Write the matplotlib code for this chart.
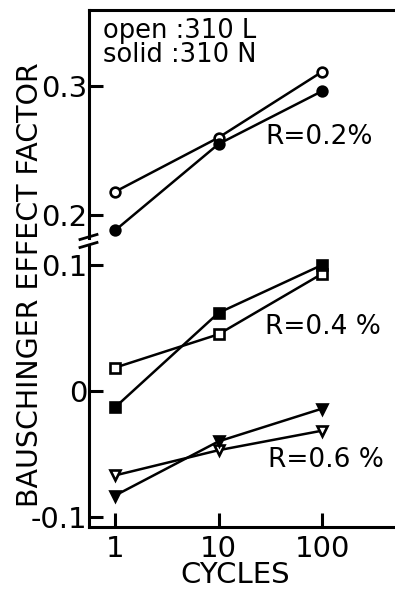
import matplotlib.pyplot as plt
import numpy as np

# datos
cycles = [1, 10, 100]
r02_310L = [0.218, 0.260, 0.311]
r02_310N = [0.188, 0.255, 0.296]
r04_310L = [0.0185, 0.045, 0.093]
r04_310N = [-0.013, 0.062, 0.100]
r06_310L = [-0.067, -0.047, -0.0315]
r06_310N = [-0.083, -0.040, -0.014]

yticks_top = [0.2, 0.3]
yticks_bot = [-0.1, 0, 0.1]
ytick_labels_bot = ['-0.1', '0', '0.1']
xticks = [1, 10, 100]

plt.rcParams['font.family'] = ['DejaVu Sans']

fig = plt.figure(figsize=(3.95, 5.91), dpi=100)
left = 89 / 395
ax_top = fig.add_axes([left, 1 - 238 / 591, 1.0 - left, (238 - 10) / 591])
ax_bot = fig.add_axes([left, 1 - 527 / 591, 1.0 - left, (527 - 245) / 591])

xlim = (10 ** (-26 / 103.5), 10 ** (280 / 103.5))
lw_spine = 2.2
mk = dict(ms=7, mew=1.9, color='black', lw=1.8, clip_on=False)

for ax in (ax_top, ax_bot):
    ax.set_xscale('log')
    ax.set_xlim(*xlim)
    ax.spines['right'].set_visible(False)
    for s in ('left', 'top', 'bottom'):
        ax.spines[s].set_linewidth(lw_spine)
    ax.tick_params(axis='both', direction='in', length=10, width=lw_spine,
                   labelsize=21, pad=1)
    ax.tick_params(axis='x', which='minor', length=0)

ax_top.set_ylim(0.2 - 23 / 1290, 0.3 + 76 / 1290)
ax_bot.set_ylim(-0.1 - 10 / 1260, 0.1 + 20 / 1260)

ax_top.spines['bottom'].set_visible(False)
ax_top.set_xticks([])
ax_top.set_yticks(yticks_top)
ax_top.set_yticklabels(['0.2', '0.3'])

ax_bot.spines['top'].set_visible(False)
ax_bot.set_yticks(yticks_bot)
ax_bot.set_yticklabels(ytick_labels_bot)
ax_bot.set_xticks(xticks)
ax_bot.set_xticklabels(['1', '10', '100'])
ax_bot.tick_params(axis='x', pad=6)

# R = 0.2 %
ax_top.plot(cycles, r02_310L, marker='o', mfc='white', mec='black', **mk)
ax_top.plot(cycles, r02_310N, marker='o', mfc='black', mec='black', **mk)
# R = 0.4 %
ax_bot.plot(cycles, r04_310L, marker='s', mfc='white', mec='black', **mk)
ax_bot.plot(cycles, r04_310N, marker='s', mfc='black', mec='black', **mk)
# R = 0.6 %
ax_bot.plot(cycles, r06_310L, marker='v', mfc='white', mec='black', **mk)
ax_bot.plot(cycles, r06_310N, marker='v', mfc='black', mec='black', **mk)

# marcas de corte del eje
for yp in (237, 245):
    yf = 1 - yp / 591
    fig.add_artist(plt.Line2D([80 / 395, 97 / 395], [yf - 2.5 / 591, yf + 2.5 / 591],
                              color='black', lw=2.0, transform=fig.transFigure))

txt = dict(fontsize=19, color='black', transform=fig.transFigure)
fig.text(103 / 395, 1 - 43 / 591, 'open :310 L\nsolid :310 N', va='center',
         ha='left', linespacing=0.95, fontsize=18.5, transform=fig.transFigure)
fig.text(265 / 395, 1 - 137 / 591, 'R=0.2%', va='center', ha='left', **txt)
fig.text(265 / 395, 1 - 327 / 591, 'R=0.4 %', va='center', ha='left', **txt)
fig.text(268 / 395, 1 - 460 / 591, 'R=0.6 %', va='center', ha='left', **txt)

fig.text(30 / 395, 1 - 285 / 591, 'BAUSCHINGER EFFECT FACTOR', rotation=90,
         va='center', ha='center', fontsize=20.5, transform=fig.transFigure)
fig.text(235 / 395, 1 - 575 / 591, 'CYCLES', va='center', ha='center',
         fontsize=21, transform=fig.transFigure)

fig.savefig('out.png', dpi=100)
